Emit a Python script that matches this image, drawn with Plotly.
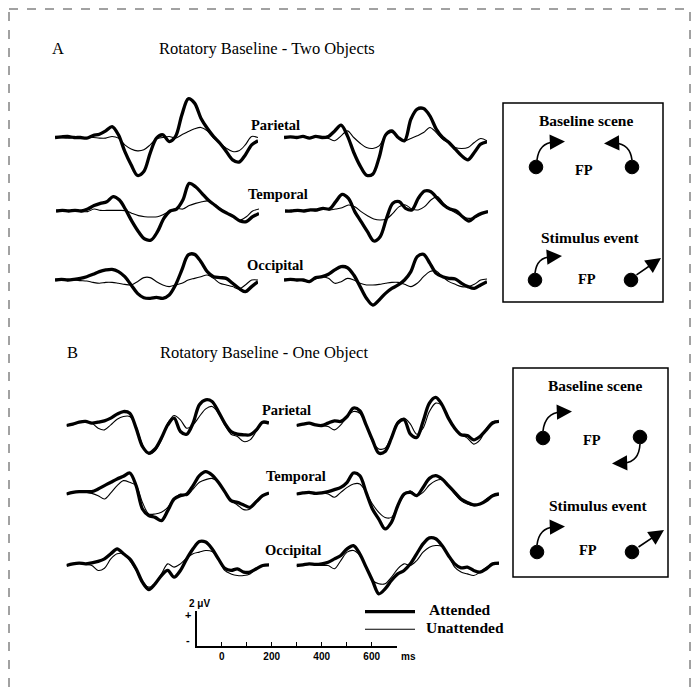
import plotly.graph_objects as go

W, H = 697, 689

# ---------------- data (µV), time in ms ----------------
time_ms = list(range(-100, 701, 25))

sites = ["Parietal", "Temporal", "Occipital"]
scale_ticks = [0, 100, 200, 300, 400, 500, 600, 700]
scale_labels = ["0", "", "200", "", "400", "", "600", ""]

# Panel A (two objects), left column
A_L_par_att = [0, 0.04, 0.07, 0, 0, -0.04, 0.13, 0.22, 0.44, 0.73, 0.18, -0.93, -1.82, -2.53, -2.27, -1.04, -0.04, 0.18, -0.27, 0.07, 1.51, 2.58, 2.29, 1.29, 0.62, 0.07, -0.38, -0.93, -1.49, -1.64, -1.16, -0.49, -0.22]
A_L_par_un = [0, -0.02, -0.04, -0.02, 0, 0, 0, -0.04, -0.04, 0.07, -0.04, -0.49, -0.76, -0.89, -0.82, -0.49, -0.09, 0, 0.07, -0.04, 0.18, 0.4, 0.58, 0.67, 0.44, -0.04, -0.38, -0.71, -0.93, -0.89, -0.49, 0.07, 0]
A_L_tem_att = [0, 0.04, 0, 0.04, 0, 0.13, 0.36, 0.51, 0.62, 0.96, 0.73, 0.07, -0.71, -1.38, -1.87, -1.93, -1.38, -0.49, 0, 0.13, 0.73, 1.84, 1.62, 1.18, 0.73, 0.4, 0.07, -0.16, -0.38, -0.67, -0.71, -0.38, -0.16]
A_L_tem_un = [0, 0, 0, 0, -0.04, -0.04, 0.13, 0.04, 0.04, 0.04, 0.04, 0.02, -0.16, -0.31, -0.38, -0.4, -0.38, -0.22, 0, 0.18, 0.13, 0.36, 0.51, 0.62, 0.67, 0.44, 0.13, -0.16, -0.38, -0.6, -0.38, 0, 0.13]
A_L_occ_att = [0, 0.04, 0, 0.04, 0.11, 0.22, 0.38, 0.56, 0.67, 0.71, 0.56, 0.22, -0.33, -0.89, -1.18, -1.22, -1.16, -1.22, -1.0, -0.33, 0.67, 1.67, 1.71, 1.22, 0.56, 0.22, 0.16, 0.11, -0.22, -0.56, -0.78, -0.44, -0.11]
A_L_occ_un = [0, 0, -0.04, 0, -0.04, -0.07, -0.16, -0.22, -0.16, -0.16, -0.22, -0.29, -0.33, -0.11, 0.16, 0.16, -0.11, -0.33, -0.44, -0.33, -0.22, 0, 0.11, 0.22, 0.33, 0.11, -0.22, -0.33, -0.44, -0.6, -0.33, 0, 0]

# Panel A, right column
A_R_par_att = [0, 0.04, 0, 0.07, -0.04, 0.07, 0, 0.07, 0.44, 0.82, 0.11, -1.0, -1.89, -2.51, -2.44, -1.33, 0.16, 0.44, 0, -0.22, 1.22, 1.89, 1.93, 1.44, 0.56, 0, -0.33, -0.78, -1.22, -1.49, -1.0, -0.44, -0.29]
A_R_par_un = [0, 0.04, 0, 0.07, 0, 0.04, 0, -0.07, -0.22, 0.11, 0.44, 0, -0.38, -0.67, -0.73, -0.56, 0.11, 0.33, 0, -0.22, -0.07, 0.11, 0.33, 0.67, 0.33, -0.11, -0.38, -0.67, -0.73, -0.67, -0.33, -0.07, -0.22]
A_R_tem_att = [0, 0, 0.04, 0, 0.07, 0.07, 0.18, 0.13, 0.62, 1.11, 0.84, -0.04, -0.71, -1.38, -2.0, -1.71, -0.49, 0.51, 0.62, 0.18, 0.07, 0.84, 1.33, 1.29, 0.84, 0.4, 0.13, 0, -0.38, -0.67, -0.38, -0.16, -0.04]
A_R_tem_un = [0, 0, 0, 0, 0.04, 0, 0.18, 0.07, 0.13, 0.22, 0.4, 0.29, -0.04, -0.31, -0.53, -0.6, -0.53, -0.16, 0.29, 0.4, 0.13, 0.07, 0.29, 0.73, 0.96, 0.51, 0.13, -0.16, -0.38, -0.49, -0.44, -0.16, 0]
A_R_occ_att = [0, 0.04, 0, 0, -0.11, 0.16, 0.22, 0.38, 0.67, 0.89, 0.82, 0.33, -0.44, -1.22, -1.67, -1.33, -0.89, -0.56, -0.33, 0, 0.56, 1.56, 1.71, 1.11, 0.44, 0.22, 0.11, 0.07, -0.22, -0.44, -0.56, -0.33, -0.11]
A_R_occ_un = [0, 0.04, 0, 0, -0.04, 0.07, 0.22, 0.11, -0.22, -0.11, 0.11, 0, -0.22, -0.33, -0.33, -0.29, -0.22, -0.16, -0.16, -0.29, -0.44, -0.22, 0.22, 0.56, 0.6, 0.22, -0.11, -0.29, -0.44, -0.44, -0.29, 0, 0.07]

# Panel B (one object), left column
B_L_par_att = [0, 0.09, 0.22, 0.27, 0.16, 0.22, 0.31, 0.49, 0.76, 0.93, 0.82, -0.18, -1.4, -1.84, -1.56, -0.84, 0.04, 0.49, -0.4, -0.58, 0.16, 1.38, 1.71, 1.6, 0.93, 0.16, -0.4, -0.58, -0.62, -0.62, -0.29, 0.22, 0.16]
B_L_par_un = [0, 0.09, 0.22, 0.27, 0.16, -0.18, -0.29, 0.04, 0.42, 0.6, 0.6, -0.07, -1.29, -1.91, -1.69, -0.96, 0.16, 0.67, 0.38, -0.18, 0.04, 0.6, 1.11, 1.27, 0.82, 0.04, -0.58, -0.73, -1.07, -0.96, -0.4, 0.16, 0.22]
B_L_tem_att = [0, 0.11, 0.16, 0.16, 0.16, 0.33, 0.56, 0.78, 1.0, 1.18, 1.4, 0.56, -1.0, -1.44, -1.56, -1.78, -1.11, -0.33, -0.11, 0, 0.56, 1.22, 1.49, 1.27, 0.78, 0.16, -0.44, -0.56, -0.73, -0.89, -0.51, -0.11, 0.07]
B_L_tem_un = [0, 0.11, 0.16, 0.11, 0.04, -0.11, -0.33, 0.07, 0.56, 0.89, 0.78, 0.56, -0.56, -1.33, -1.33, -1.22, -0.89, -0.33, 0, -0.11, 0.33, 0.78, 0.96, 1.04, 0.78, 0.11, -0.44, -0.73, -1.04, -1.0, -0.44, -0.11, 0.07]
B_L_occ_att = [0, 0.11, 0.16, 0.11, 0.18, 0.27, 0.44, 0.78, 1.11, 0.78, 0.44, -0.22, -1.11, -1.6, -1.22, -0.67, -0.33, -0.78, -0.33, 0.44, 1.11, 1.6, 1.56, 1.11, 0.44, -0.18, -0.33, -0.22, -0.44, -0.44, -0.22, 0, 0.04]
B_L_occ_un = [0, 0.11, 0.16, 0.07, 0, -0.33, -0.18, 0.44, 0.78, 0.78, 0.33, -0.33, -1.11, -1.44, -1.22, -0.56, 0.11, -0.11, 0.11, 0.49, 0.78, 0.89, 1.0, 0.93, 0.44, -0.33, -0.56, -0.67, -0.67, -0.56, -0.22, 0, 0.04]

# Panel B, right column
B_R_par_att = [0, 0.09, 0.16, 0.04, 0, 0.16, 0.31, 0.27, 0.6, 1.16, 0.98, 0.04, -0.96, -1.84, -1.73, -0.84, 0.16, 0.38, -0.58, -0.8, 0.27, 1.49, 1.87, 1.38, 0.49, -0.18, -0.62, -0.67, -0.96, -0.73, -0.29, 0.16, 0.27]
B_R_par_un = [0, 0.09, 0.16, 0.04, 0, -0.07, -0.29, 0.04, 0.6, 0.93, 0.82, 0.04, -1.07, -1.56, -1.51, -0.73, 0.27, 0.49, 0.09, -0.58, -0.18, 0.93, 1.49, 1.33, 0.6, -0.18, -0.58, -0.84, -1.24, -0.96, -0.18, 0.27, 0.27]
B_R_tem_att = [0, 0.07, 0.11, 0.04, 0.07, 0.16, 0.29, 0.44, 0.78, 1.4, 1.22, 0.11, -1.0, -1.67, -2.33, -1.89, -0.78, 0, 0.11, -0.11, 0.44, 1.04, 1.22, 1.0, 0.56, 0.11, -0.33, -0.56, -0.73, -0.67, -0.44, -0.11, 0]
B_R_tem_un = [0, 0.07, 0.11, 0, 0.07, 0, -0.22, 0.11, 0.44, 0.67, 0.67, 0.11, -0.67, -1.22, -1.56, -1.56, -0.78, -0.11, 0.22, -0.11, 0.11, 0.6, 0.89, 0.96, 0.56, 0, -0.44, -0.67, -0.78, -0.67, -0.33, -0.07, 0]
B_R_occ_att = [0, 0.04, 0.11, 0.07, 0.11, 0.22, 0.44, 0.67, 1.11, 1.33, 0.78, -0.11, -1.0, -1.89, -1.56, -1.0, -0.56, -0.33, 0.11, 0.78, 1.44, 1.84, 1.78, 1.33, 0.67, 0.11, -0.16, -0.11, -0.33, -0.44, -0.22, 0.11, 0.16]
B_R_occ_un = [0, 0.04, 0.11, 0.07, 0, 0, -0.22, 0.33, 0.89, 1.0, 0.67, -0.11, -1.0, -1.22, -1.22, -0.78, -0.22, 0.11, 0, 0.33, 0.89, 1.22, 1.33, 1.27, 0.67, -0.11, -0.44, -0.56, -0.67, -0.44, -0.11, 0.11, 0.11]

# ---------------- layout helpers ----------------
PX_PER_UV = 15.0
HALF = 45.0
SERIF = "Liberation Serif"
SANS = "Liberation Sans"

# (left px, right px, baseline px, attended, unattended)
panels = [
    (55, 258, 137.5, A_L_par_att, A_L_par_un),
    (284, 487, 137.5, A_R_par_att, A_R_par_un),
    (56, 259, 211, A_L_tem_att, A_L_tem_un),
    (285, 488, 211, A_R_tem_att, A_R_tem_un),
    (55, 258, 280, A_L_occ_att, A_L_occ_un),
    (284, 487, 280, A_R_occ_att, A_R_occ_un),
    (66.5, 269, 425.5, B_L_par_att, B_L_par_un),
    (296.5, 499, 425.5, B_R_par_att, B_R_par_un),
    (66.5, 269, 494, B_L_tem_att, B_L_tem_un),
    (296.5, 499, 494, B_R_tem_att, B_R_tem_un),
    (66.5, 269, 565.5, B_L_occ_att, B_L_occ_un),
    (296.5, 499, 565.5, B_R_occ_att, B_R_occ_un),
]

fig = go.Figure()
lay = {}


def ax_name(i, kind):
    return kind if i == 1 else f"{kind}{i}"


for i, (x0, x1, yb, att, un) in enumerate(panels, start=1):
    assert len(att) == len(time_ms) and len(un) == len(time_ms)
    xa, ya = ax_name(i, "x"), ax_name(i, "y")
    fig.add_trace(go.Scatter(x=time_ms, y=un, mode="lines", xaxis=xa, yaxis=ya,
                             line=dict(color="black", width=1.1, shape="spline", smoothing=0.9),
                             showlegend=False, hoverinfo="skip"))
    fig.add_trace(go.Scatter(x=time_ms, y=att, mode="lines", xaxis=xa, yaxis=ya,
                             line=dict(color="black", width=3.3, shape="spline", smoothing=0.9),
                             showlegend=False, hoverinfo="skip"))
    lay[ax_name(i, "xaxis")] = dict(domain=[x0 / W, x1 / W], range=[-100, 700], visible=False,
                                   anchor=ya, fixedrange=True)
    lay[ax_name(i, "yaxis")] = dict(domain=[1 - (yb + HALF) / H, 1 - (yb - HALF) / H],
                                   range=[-HALF / PX_PER_UV, HALF / PX_PER_UV], visible=False,
                                   anchor=xa, fixedrange=True)

# scale-bar axis
S = len(panels) + 1
bar_top, bar_bot = 611.0, 646.0
fig.add_trace(go.Scatter(x=[None], y=[None], xaxis=f"x{S}", yaxis=f"y{S}", showlegend=False,
                         hoverinfo="skip"))
lay[f"xaxis{S}"] = dict(domain=[196.7 / W, 396.7 / W], range=[-100, 700], anchor=f"y{S}",
                        showline=True, linecolor="black", linewidth=1.5, showgrid=False,
                        zeroline=False, ticks="inside", ticklen=4, tickwidth=1.3, tickcolor="black",
                        tickvals=scale_ticks, ticktext=scale_labels,
                        tickfont=dict(family=SANS, size=10, color="black", weight="bold"),
                        fixedrange=True)
lay[f"yaxis{S}"] = dict(domain=[1 - bar_bot / H, 1 - bar_top / H],
                        range=[0, (bar_bot - bar_top) / PX_PER_UV], anchor=f"x{S}",
                        showline=True, linecolor="black", linewidth=1.5, showgrid=False,
                        zeroline=False, ticks="inside", ticklen=5, tickwidth=1.3, tickcolor="black",
                        tickvals=[(bar_bot - bar_top - 1) / PX_PER_UV], showticklabels=False,
                        fixedrange=True)

# pixel overlay axis for decorations
P = S + 1
fig.add_trace(go.Scatter(x=[None], y=[None], xaxis=f"x{P}", yaxis=f"y{P}", showlegend=False,
                         hoverinfo="skip"))
lay[f"xaxis{P}"] = dict(domain=[0, 1], range=[0, W], visible=False, anchor=f"y{P}", fixedrange=True)
lay[f"yaxis{P}"] = dict(domain=[0, 1], range=[H, 0], visible=False, anchor=f"x{P}", fixedrange=True)
XR, YR = f"x{P}", f"y{P}"

shapes = []
annos = []


def text(x, y, s, size, anchor="left", bold=False, family=SERIF):
    annos.append(dict(x=x, y=y, xref=XR, yref=YR, text=s, showarrow=False, xanchor=anchor,
                      yanchor="middle", font=dict(family=family, size=size, color="black",
                                                  weight="bold" if bold else "normal")))


def line(x0, y0, x1, y1, w=1.5, dash="solid", color="black"):
    shapes.append(dict(type="line", x0=x0, y0=y0, x1=x1, y1=y1, xref=XR, yref=YR,
                       line=dict(color=color, width=w, dash=dash)))


def dot(cx, cy, r=6.8):
    shapes.append(dict(type="circle", x0=cx - r, x1=cx + r, y0=cy - r, y1=cy + r, xref=XR, yref=YR,
                       fillcolor="black", line=dict(color="black", width=1)))


def curve(x0, y0, cx, cy, x1, y1):
    shapes.append(dict(type="path", path=f"M {x0} {y0} Q {cx} {cy} {x1} {y1}", xref=XR, yref=YR,
                       line=dict(color="black", width=1.6)))


def arrow(tx, ty, hx, hy):
    annos.append(dict(x=hx, y=hy, ax=tx, ay=ty, xref=XR, yref=YR, axref=XR, ayref=YR, text="",
                      showarrow=True, arrowhead=2, arrowsize=1.9, arrowwidth=1.6,
                      arrowcolor="black", standoff=0, startstandoff=0))


# outer dashed frame
shapes.append(dict(type="rect", x0=9, y0=9, x1=690, y1=702, xref=XR, yref=YR,
                   line=dict(color="#444", width=1, dash="dash")))

# panel titles
text(50, 48, "A", 16.5)
text(157, 48, "Rotatory Baseline - Two Objects", 16.5)
text(65, 352, "B", 16.5)
text(158, 352, "Rotatory Baseline - One Object", 16.5)

# site labels
label_pos = [(302, 125), (310, 194), (305, 265), (313, 410), (328, 476), (323, 550)]
for j, (lx, ly) in enumerate(label_pos):
    text(lx, ly, sites[j % 3], 14.5, anchor="right", bold=True)

# schematic box A
shapes.append(dict(type="rect", x0=503, y0=103, x1=663, y1=302, xref=XR, yref=YR,
                   line=dict(color="black", width=1.5)))
text(586, 120, "Baseline scene", 15.5, anchor="center", bold=True)
dot(536, 167); dot(632, 167)
text(584, 170, "FP", 14.5, anchor="center", bold=True)
curve(537, 160, 539, 143, 554, 142); arrow(552, 142, 565, 141.5)
curve(632, 160, 630, 144, 615, 143); arrow(617, 143, 604, 143.5)
text(590, 237, "Stimulus event", 15.5, anchor="center", bold=True)
dot(535, 280); dot(631, 280)
text(587, 279, "FP", 14.5, anchor="center", bold=True)
curve(535, 273, 537, 257, 551, 257); arrow(549, 257, 562, 256)
arrow(635, 276, 661, 258)

# schematic box B
shapes.append(dict(type="rect", x0=513, y0=368, x1=668, y1=577, xref=XR, yref=YR,
                   line=dict(color="black", width=1.5)))
text(595, 385, "Baseline scene", 15.5, anchor="center", bold=True)
dot(543, 438); dot(640, 437)
text(592, 440, "FP", 14.5, anchor="center", bold=True)
curve(543, 431, 545, 413, 561, 412); arrow(559, 412, 572, 411.5)
curve(640, 444, 639, 462, 624, 463); arrow(626, 463, 612, 463.5)
text(598, 505, "Stimulus event", 15.5, anchor="center", bold=True)
dot(537, 552); dot(632, 552)
text(588, 550, "FP", 14.5, anchor="center", bold=True)
curve(537, 545, 539, 528, 554, 527); arrow(552, 527, 565, 526.5)
arrow(637, 548, 664, 530)

# scale bar labels
text(199, 603, "2 \u03bcV", 10, anchor="center", bold=True, family=SANS)
text(188, 615, "+", 11, anchor="center", bold=True, family=SANS)
text(188, 640, "-", 11, anchor="center", bold=True, family=SANS)
text(399, 656, "ms", 10, anchor="left", bold=True, family=SANS)

# legend
line(365, 611.7, 415, 611.7, w=3.3)
line(365, 629.3, 415, 629.3, w=1.1)
text(427, 609, "Attended", 15.5, bold=True)
text(424, 627, "Unattended", 15.5, bold=True)

fig.update_layout(width=W, height=H, margin=dict(l=0, r=0, t=0, b=0), autosize=False,
                  paper_bgcolor="white", plot_bgcolor="rgba(0,0,0,0)", showlegend=False,
                  shapes=shapes, annotations=annos, **lay)

fig.write_html("out.html", config={"displayModeBar": False},
               post_script="document.body.style.margin='0px';document.body.style.overflow='hidden';")
